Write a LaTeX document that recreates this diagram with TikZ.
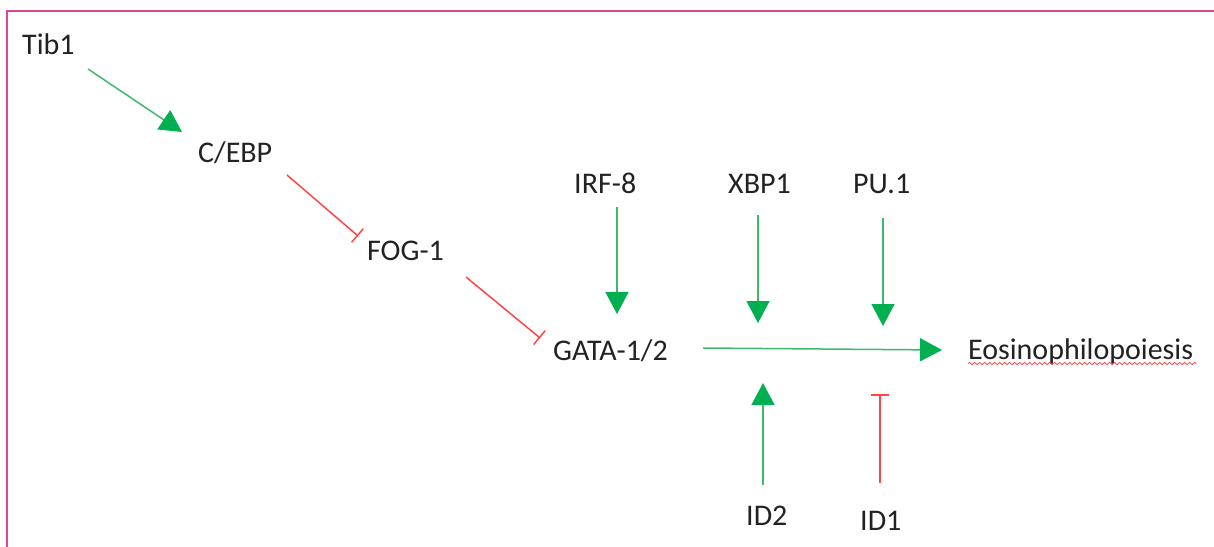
\documentclass[tikz,border=0pt]{standalone}
\usepackage{fontspec}
\setmainfont{Carlito}
\usetikzlibrary{arrows.meta,decorations.pathmorphing}
\definecolor{frame}{HTML}{E0449A}
\definecolor{actline}{HTML}{3CBA6A}
\definecolor{acthead}{HTML}{00B050}
\definecolor{inhred}{HTML}{FF4545}
\definecolor{txt}{HTML}{222222}
\tikzset{
  lbl/.style={anchor=base west, inner sep=0pt, text=txt, font=\fontsize{30}{36}\selectfont},
  act/.style={draw=actline, line width=1.5pt, -{Triangle[length=22pt,width=23pt,color=acthead]}},
  inh/.style={draw=inhred, line width=1.5pt, -{Bar[width=18pt,line width=1.5pt]}},
}
\begin{document}
\begin{tikzpicture}[x=1pt,y=-1pt]
\useasboundingbox (0,0) rectangle (1214,546);
\draw[frame, line width=2pt] (7,548) -- (7,11) -- (1216,11);

\node[lbl] (tib1) at (22,54) {Tib1};
\node[lbl] (cebp) at (198,162) {C/EBP};
\node[lbl] (fog1) at (367,260) {FOG-1};
\node[lbl] (gata) at (553,360) {GATA-1/2};
\node[lbl] (irf8) at (574,193) {IRF-8};
\node[lbl] (xbp1) at (728,193) {XBP1};
\node[lbl] (pu1) at (853,193) {PU.1};
\node[lbl] (eos) at (968,359) {Eosinophilopoiesis};
\node[lbl] (id2) at (746,525) {ID2};
\node[lbl] (id1) at (860,530) {ID1};

% connector end points
\coordinate (tibS) at (88,69);   \coordinate (tibE) at (182,132);
\coordinate (cebS) at (287,175); \coordinate (cebE) at (358,236);
\coordinate (fogS) at (466,277); \coordinate (fogE) at (540,338);
\coordinate (gatS) at (703,348); \coordinate (gatE) at (942,350);
\coordinate (irfS) at (617,207); \coordinate (irfE) at (617,314);
\coordinate (xbpS) at (758,215); \coordinate (xbpE) at (758,323);
\coordinate (puS)  at (883,218); \coordinate (puE)  at (883,326);
\coordinate (id2S) at (763,485); \coordinate (id2E) at (763,383);
\coordinate (id1S) at (880,483); \coordinate (id1E) at (880,394);

\draw[act] (tibS) -- (tibE);
\draw[inh] (cebS) -- (cebE);
\draw[inh] (fogS) -- (fogE);
\draw[act] (gatS) -- (gatE);
\draw[act] (irfS) -- (irfE);
\draw[act] (xbpS) -- (xbpE);
\draw[act] (puS) -- (puE);
\draw[act] (id2S) -- (id2E);
\draw[inh] (id1S) -- (id1E);

\draw[inhred, line width=0.8pt, decorate, decoration={snake, amplitude=1.1pt, segment length=5pt}]
  ([yshift=-4.5pt]eos.base west) -- ([yshift=-4.5pt,xshift=3pt]eos.base east);
\end{tikzpicture}
\end{document}
